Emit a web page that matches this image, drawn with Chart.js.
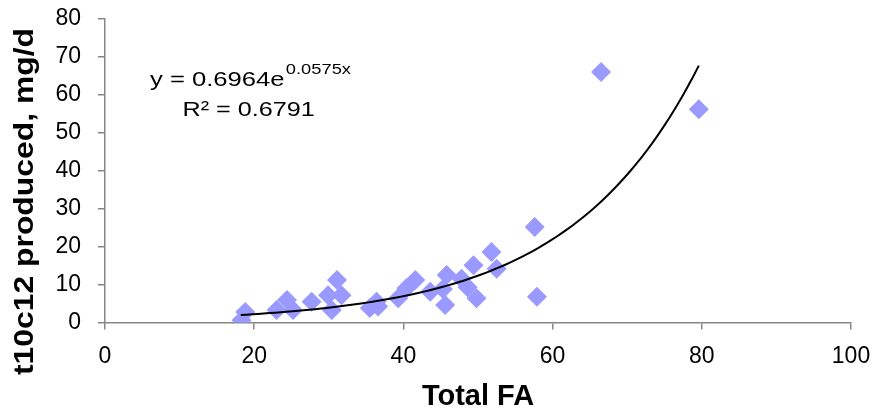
<!DOCTYPE html>
<html><head><meta charset="utf-8">
<script src="https://cdn.jsdelivr.net/npm/chart.js@4/dist/chart.umd.min.js"></script>
<style>html,body{margin:0;padding:0;background:#fff;overflow:hidden}</style>
</head><body>
<canvas id="c" width="873" height="414" style="width:873px;height:414px;display:block"></canvas>
<script>
// Data
const totalFA = [18.3, 18.8, 23.0, 24.4, 25.2, 27.7, 29.9, 30.4, 31.1, 31.7, 35.5, 36.4, 36.6, 39.3, 40.4, 41.6, 43.6, 45.3, 45.8, 45.6, 47.8, 48.6, 49.4, 49.8, 51.8, 52.5, 57.6, 57.9, 66.5, 79.6];
const t10c12 = [0.6, 2.8, 3.3, 5.9, 3.3, 5.5, 7.2, 3.3, 11.2, 7.2, 3.8, 5.5, 4.2, 6.4, 9.0, 11.2, 8.1, 8.8, 12.5, 4.6, 11.5, 9.3, 15.1, 6.4, 18.6, 14.2, 25.2, 6.8, 66.0, 56.2];
const xTickValues = [0, 20, 40, 60, 80, 100];
const yTickValues = [0, 10, 20, 30, 40, 50, 60, 70, 80];
// Exponential trendline shown on the chart: y = a * e^(b x)
const trendA = 0.6964;
const trendB = 0.0575;
const trendStart = 18.2;
const trendEnd = 79.6;
const equationMain = 'y = 0.6964e';
const equationExp = '0.0575x';
const r2Label = 'R² = 0.6791';
const xTitle = 'Total FA';
const yTitle = 't10c12 produced, mg/d';

const trendPoints = [];
for (let i = 0; i <= 80; i++) {
  const x = trendStart + (trendEnd - trendStart) * i / 80;
  trendPoints.push({x: x, y: trendA * Math.exp(trendB * x)});
}
const scatterPoints = totalFA.map((x, i) => ({x: x, y: t10c12[i]}));

const AXIS = '#868686';
const FONT = "'Liberation Sans', Arial, sans-serif";

const overlay = {
  id: 'overlay',
  afterDraw(chart) {
    const ctx = chart.ctx;
    ctx.save();
    ctx.fillStyle = '#000';
    // y-axis title
    ctx.save();
    ctx.translate(32.5, 201.5);
    ctx.rotate(-Math.PI / 2);
    ctx.scale(1.18, 1);
    ctx.font = 'bold 27px ' + FONT;
    ctx.textAlign = 'center';
    ctx.textBaseline = 'alphabetic';
    ctx.fillText(yTitle, 0, 0);
    ctx.restore();
    // equation
    ctx.save();
    ctx.translate(150, 86);
    ctx.scale(1.22, 1);
    ctx.font = '21px ' + FONT;
    ctx.textAlign = 'left';
    ctx.textBaseline = 'alphabetic';
    ctx.fillText(equationMain, 0, 0);
    const w = ctx.measureText(equationMain).width;
    ctx.font = '15px ' + FONT;
    ctx.fillText(equationExp, w + 1, -12);
    ctx.restore();
    ctx.save();
    ctx.translate(182.5, 115.7);
    ctx.scale(1.2, 1);
    ctx.font = '21px ' + FONT;
    ctx.textAlign = 'left';
    ctx.fillText(r2Label, 0, 0);
    ctx.restore();
    ctx.restore();
  }
};

new Chart(document.getElementById('c'), {
  type: 'scatter',
  data: {
    datasets: [
      {
        type: 'line',
        label: 'trend',
        data: trendPoints,
        borderColor: '#000',
        borderWidth: 2,
        pointRadius: 0,
        fill: false,
        tension: 0
      },
      {
        label: 't10c12',
        data: scatterPoints,
        pointStyle: 'rectRot',
        pointRadius: 10,
        pointHoverRadius: 10,
        backgroundColor: '#9999FF',
        borderColor: '#9999FF',
        borderWidth: 0
      }
    ]
  },
  options: {
    responsive: false,
    animation: false,
    devicePixelRatio: 1,
    layout: {padding: {left: 0, right: 22, top: 19, bottom: 0}},
    plugins: {legend: {display: false}, tooltip: {enabled: false}},
    scales: {
      x: {
        type: 'linear',
        min: 0, max: 100,
        afterBuildTicks: s => { s.ticks = xTickValues.map(v => ({value: v})); },
        afterFit: s => { s.height = 91.5; s.paddingLeft = 0; s.paddingRight = 0; },
        grid: {drawOnChartArea: false, drawTicks: true, tickLength: 7, color: AXIS, lineWidth: 1.5},
        border: {display: true, color: AXIS, width: 1.5},
        ticks: {color: '#000', font: {family: FONT, size: 23}, padding: 13, maxRotation: 0},
        title: {display: true, text: xTitle, color: '#000', font: {family: FONT, size: 29, weight: 'bold'}, padding: {top: 0, bottom: 0}}
      },
      y: {
        type: 'linear',
        min: 0, max: 80,
        afterBuildTicks: s => { s.ticks = yTickValues.map(v => ({value: v})); },
        afterFit: s => { s.width = 105; s.paddingTop = 0; s.paddingBottom = 0; },
        grid: {drawOnChartArea: false, drawTicks: true, tickLength: 7, color: AXIS, lineWidth: 1.5},
        border: {display: true, color: AXIS, width: 1.5},
        ticks: {color: '#000', font: {family: FONT, size: 23}, padding: 17}
      }
    }
  },
  plugins: [overlay]
});
</script>
</body></html>
